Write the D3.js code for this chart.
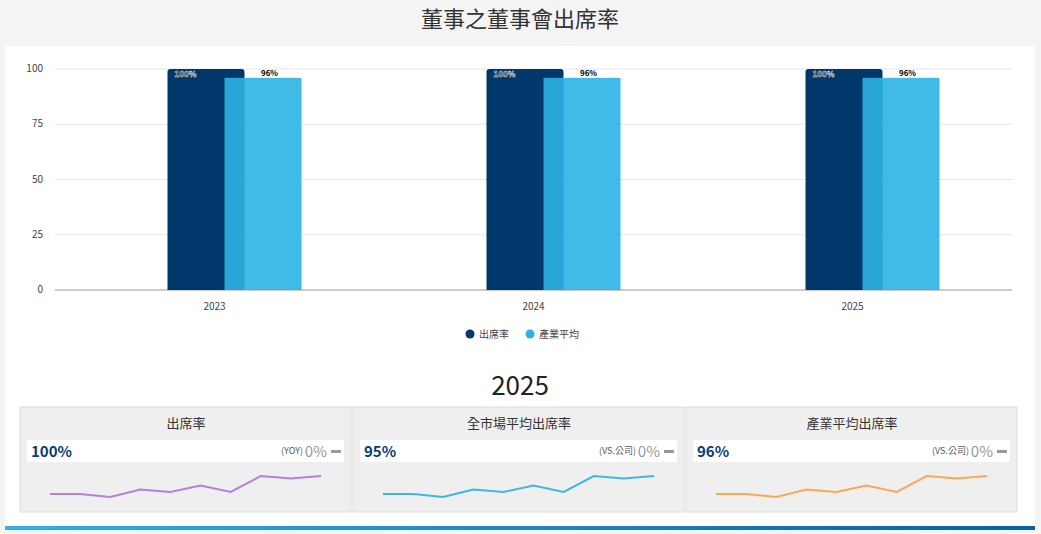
<!DOCTYPE html><html><head><meta charset="utf-8">
<script src="https://cdn.jsdelivr.net/npm/d3@7"></script>
<style>body{margin:0;background:#f4f4f4;font-family:"Noto Sans CJK TC","Noto Sans",sans-serif}</style></head><body>
<svg id="c" width="1041" height="534"></svg>
<script>
const years=["2023","2024","2025"];
const attendance=[100,100,100];
const industryAvg=[96,96,96];
const yTicks=[0,25,50,75,100];
const seriesNames=["出席率","產業平均"];
const cardTitles=["出席率","全市場平均出席率","產業平均出席率"];
const cardValues=["100%","95%","96%"];
const cardCompare=["(YOY)","(VS.公司)","(VS.公司)"];
const cardColors=["#b57ee5","#3fb7e3","#f7a95a"];
const spark=[93,93,92,94.5,93.7,95.8,93.7,99,98.2,99];

const svg=d3.select("#c");
svg.append("rect").attr("x",5).attr("y",46).attr("width",1030).attr("height",484).attr("fill","#fff");
svg.append("text").attr("x",520).attr("y",27).attr("text-anchor","middle").attr("font-size",22).attr("fill","#333").text("董事之董事會出席率");
const x=d3.scaleBand().domain(years).range([55,1012]);
const y=d3.scaleLinear().domain([0,100]).range([290,69]);
const g=svg.append("g");
yTicks.forEach(t=>{
 g.append("line").attr("x1",55).attr("x2",1012).attr("y1",y(t)).attr("y2",y(t)).attr("stroke",t?"#e6e6e6":"#999");
 g.append("text").attr("x",43).attr("y",y(t)+3).attr("text-anchor","end").attr("font-size",10).attr("fill","#444").text(t);
});
years.forEach((yr,i)=>{
 const c=x(yr)+x.bandwidth()/2;
 g.append("text").attr("x",c).attr("y",310).attr("text-anchor","middle").attr("font-size",10).attr("fill","#444").text(yr);
 g.append("path").attr("d",`M${c-47},${y(0)}V${y(attendance[i])+3}q0,-3 3,-3H${c+27}q3,0 3,3V${y(0)}Z`).attr("fill","#00386c");
 g.append("rect").attr("x",c+10).attr("y",y(industryAvg[i])).attr("width",77).attr("height",y(0)-y(industryAvg[i])).attr("fill","#2bb3e3").attr("opacity",0.9);
 g.append("text").attr("x",c-40).attr("y",y(attendance[i])+8).attr("font-size",8).attr("font-weight","bold").attr("fill","#000").attr("stroke","#fff").attr("stroke-width",0.4).text(attendance[i]+"%");
 g.append("text").attr("x",c+55).attr("y",y(industryAvg[i])-2).attr("text-anchor","middle").attr("font-size",8).attr("font-weight","bold").attr("fill","#000").text(industryAvg[i]+"%");
});
[["#00386c",470],["#2bb3e3",530]].forEach((d,i)=>{
 svg.append("circle").attr("cx",d[1]).attr("cy",334).attr("r",4.5).attr("fill",d[0]);
 svg.append("text").attr("x",d[1]+9).attr("y",338).attr("font-size",10).attr("fill","#444").text(seriesNames[i]);
});
svg.append("text").attr("x",520).attr("y",395).attr("text-anchor","middle").attr("font-size",26).attr("fill","#222").text("2025");
const sx=d3.scaleLinear().domain([0,spark.length-1]);
const sy=d3.scaleLinear().domain([92,99]).range([497,476]);
cardTitles.forEach((t,i)=>{
 const x0=20+i*333;
 svg.append("rect").attr("x",x0).attr("y",407).attr("width",331).attr("height",105).attr("fill","#efefef").attr("stroke","#ddd");
 svg.append("text").attr("x",x0+166).attr("y",428).attr("text-anchor","middle").attr("font-size",13).attr("fill","#333").text(t);
 svg.append("rect").attr("x",x0+7).attr("y",440).attr("width",317).attr("height",22).attr("fill","#fff");
 svg.append("text").attr("x",x0+11).attr("y",457).attr("font-size",15).attr("font-weight","bold").attr("fill","#0b3d73").text(cardValues[i]);
 svg.append("rect").attr("x",x0+311).attr("y",450).attr("width",10).attr("height",3).attr("fill","#999");
 svg.append("text").attr("x",x0+307).attr("y",457).attr("text-anchor","end").attr("font-size",15).attr("fill","#999").text("0%");
 svg.append("text").attr("x",x0+283).attr("y",454).attr("text-anchor","end").attr("font-size",9).attr("fill","#555").text(cardCompare[i]);
 sx.range([x0+30,x0+301]);
 svg.append("path").attr("d",d3.line().x((d,j)=>sx(j)).y(d=>sy(d))(spark)).attr("fill","none").attr("stroke",cardColors[i]).attr("stroke-width",2);
});
const grad=svg.append("defs").append("linearGradient").attr("id","gr");
grad.append("stop").attr("offset","0").attr("stop-color","#2bb3e3");
grad.append("stop").attr("offset","1").attr("stop-color","#0a5fa5");
svg.append("rect").attr("x",5).attr("y",526).attr("width",1030).attr("height",4).attr("fill","url(#gr)");
</script></body></html>
